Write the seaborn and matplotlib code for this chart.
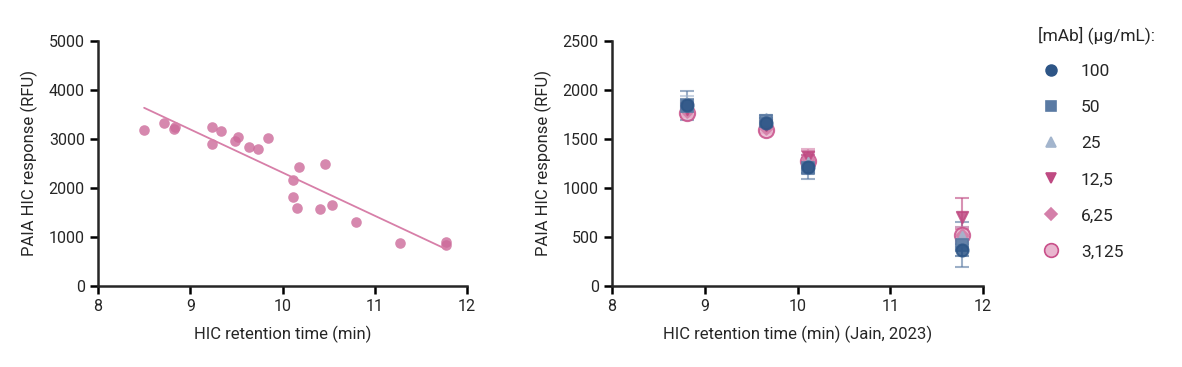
import numpy as np
import pandas as pd
import matplotlib
matplotlib.use("Agg")
import matplotlib.pyplot as plt
from matplotlib.lines import Line2D
import seaborn as sns

# left panel: single-concentration screen vs. HIC retention time
ret_time = [8.50, 8.72, 8.82, 8.84, 9.24, 9.33, 9.24, 9.48, 9.52, 9.64, 9.73,
            9.84, 10.18, 10.11, 10.46, 10.11, 10.16, 10.41, 10.54, 10.80,
            11.27, 11.77, 11.77]
response = [3190, 3330, 3210, 3235, 3240, 3170, 2890, 2965, 3045, 2840, 2790,
            3020, 2425, 2170, 2490, 1820, 1600, 1580, 1650, 1315,
            875, 890, 845]

# right panel: dilution series, mean +/- sd
jain_time = [8.81, 9.66, 10.11, 11.77]
conc_labels = ["100", "50", "25", "12,5", "6,25", "3,125"]
means = {
    "100":   [1850, 1660, 1210, 370],
    "50":    [1840, 1680, 1200, 420],
    "25":    [1860, 1700, 1260, 500],
    "12,5":  [1810, 1640, 1320, 705],
    "6,25":  [1790, 1610, 1300, 520],
    "3,125": [1770, 1590, 1280, 520],
}
sds = {
    "100":   [60, 50, 60, 60],
    "50":    [150, 60, 110, 230],
    "25":    [80, 40, 80, 100],
    "12,5":  [60, 40, 60, 190],
    "6,25":  [50, 30, 100, 80],
    "3,125": [50, 30, 60, 60],
}

colors = ["#2d5586", "#5a7aa3", "#a3b5cd", "#bf4a82", "#d47fa9", "#e9b6cf"]
edge = ["#2d5586", "#5a7aa3", "#a3b5cd", "#bf4a82", "#d47fa9", "#c9508a"]
markers = ["o", "s", "^", "v", "D", "o"]
sizes = [75, 65, 65, 65, 40, 120]

sns.set_style("ticks")
plt.rcParams["font.family"] = ["Roboto", "DejaVu Sans"]
plt.rcParams["axes.linewidth"] = 1.8

fig = plt.figure(figsize=(11.82, 3.67), dpi=100)
ax1 = fig.add_axes([98 / 1182, 1 - 286 / 367, 369 / 1182, 245 / 367])
ax2 = fig.add_axes([612 / 1182, 1 - 286 / 367, 371 / 1182, 245 / 367])

pink = "#cc6a9a"
sns.regplot(x=ret_time, y=response, ax=ax1, ci=None, truncate=True,
            scatter_kws=dict(s=58, color=pink, alpha=0.8, linewidths=0),
            line_kws=dict(color="#d77fa8", lw=1.3))
ax1.set_xlim(8, 12)
ax1.set_ylim(0, 5000)
ax1.set_xticks([8, 9, 10, 11, 12])
ax1.set_yticks(range(0, 5001, 1000))
ax1.set_xlabel("HIC retention time (min)", fontsize=12, labelpad=8)
ax1.set_ylabel("PAIA HIC response (RFU)", fontsize=12, labelpad=8)

rows = []
for c in conc_labels:
    for t, m, s in zip(jain_time, means[c], sds[c]):
        rows.append(dict(time=t, resp=m, sd=s, conc=c))
df = pd.DataFrame(rows)

for i, c in enumerate(conc_labels):
    sub = df[df["conc"] == c]
    ax2.errorbar(sub["time"], sub["resp"], yerr=sub["sd"], fmt="none",
                 ecolor=edge[i], elinewidth=1.5, capsize=5, capthick=1.5,
                 alpha=0.6, zorder=2)
for i, c in enumerate(conc_labels[::-1]):
    j = len(conc_labels) - 1 - i
    sub = df[df["conc"] == c]
    sns.scatterplot(data=sub, x="time", y="resp", ax=ax2, marker=markers[j],
                    s=sizes[j], color=colors[j], edgecolor=edge[j],
                    linewidth=1.5, alpha=0.85, zorder=3, legend=False)
ax2.set_xlim(8, 12)
ax2.set_ylim(0, 2500)
ax2.set_xticks([8, 9, 10, 11, 12])
ax2.set_yticks(range(0, 2501, 500))
ax2.set_xlabel("HIC retention time (min) (Jain, 2023)", fontsize=12, labelpad=8)
ax2.set_ylabel("PAIA HIC response (RFU)", fontsize=12, labelpad=8)

for ax in (ax1, ax2):
    sns.despine(ax=ax)
    ax.tick_params(axis="both", labelsize=11.5, width=1.8, length=6, color="black")

handles = [Line2D([], [], ls="none", marker=markers[i], color=colors[i],
                  markeredgecolor=edge[i], markersize=np.sqrt(sizes[i]) * 0.9,
                  markeredgewidth=1.2)
           for i in range(len(conc_labels))]
leg = fig.legend(handles, conc_labels, title="[mAb] (\u00b5g/mL):",
                 loc="upper left", bbox_to_anchor=(1022 / 1182, 1 - 10 / 367),
                 frameon=False, fontsize=12.5, title_fontsize=12.5,
                 labelspacing=1.2, handletextpad=1.0, handlelength=1.5)
leg._legend_box.align = "left"

fig.savefig("out.png", dpi=100)
